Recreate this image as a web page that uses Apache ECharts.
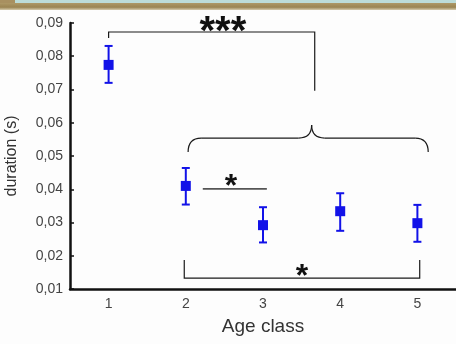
<!DOCTYPE html>
<html><head><meta charset="utf-8">
<script src="https://cdn.jsdelivr.net/npm/echarts@6/dist/echarts.min.js"></script>
<style>html,body{margin:0;padding:0;background:#fdfdfd}#c{width:456px;height:344px}</style>
</head><body><div id="c"></div>
<script>
// ---- data ----
const ageClasses = ['1', '2', '3', '4', '5'];
const meanDuration = [0.0774, 0.0410, 0.0292, 0.0334, 0.0298];
const errLow = [0.0720, 0.0354, 0.0240, 0.0275, 0.0242];
const errHigh = [0.0831, 0.0464, 0.0346, 0.0388, 0.0353];
const yMin = 0.01, yMax = 0.09, yStep = 0.01;

// ---- significance annotations (x in age-class units, y in seconds) ----
const bracketTop = [[1.0, 0.0855], [1.0, 0.0873], [3.67, 0.0873], [3.67, 0.0696]];
const braceLeft = [2.03, 0.0512];
const braceTip = [3.63, 0.0593];
const braceRight = [5.14, 0.0512];
const braceBarY = 0.0554;
const line23 = [[2.22, 0.0401], [3.05, 0.0401]];
const bracketBottom = [[1.98, 0.0187], [1.98, 0.0133], [5.03, 0.0133], [5.03, 0.0187]];
const starText = ['***', '*', '*'];
const starX = [2.48, 2.585, 3.505];
const starY = [0.0900, 0.0428, 0.0160];
const starSize = [40, 32, 32];

const FONT = 'Liberation Sans, Arial, sans-serif';
const BLUE = '#1212e8';

const chart = echarts.init(document.getElementById('c'), null, {renderer: 'canvas'});

function renderErr(params, api) {
  const i = api.value(0);
  const lo = api.coord([i, api.value(1)]);
  const hi = api.coord([i, api.value(2)]);
  const w = 4;
  const st = {stroke: BLUE, lineWidth: 2};
  return {type: 'group', children: [
    {type: 'line', shape: {x1: lo[0], y1: lo[1], x2: hi[0], y2: hi[1]}, style: st},
    {type: 'line', shape: {x1: lo[0] - w, y1: lo[1], x2: lo[0] + w, y2: lo[1]}, style: st},
    {type: 'line', shape: {x1: hi[0] - w, y1: hi[1], x2: hi[0] + w, y2: hi[1]}, style: st}
  ]};
}

function renderAnno(params, api) {
  if (params.dataIndex !== 0) return null;
  const c = p => api.coord(p);
  const ls = {stroke: '#1a1a1a', lineWidth: 1.2, fill: null};
  const children = [];
  children.push({type: 'polyline', shape: {points: bracketTop.map(c)}, style: ls});
  children.push({type: 'polyline', shape: {points: bracketBottom.map(c)}, style: ls});
  children.push({type: 'polyline', shape: {points: line23.map(c)}, style: {stroke: '#555', lineWidth: 1.6, fill: null}});
  const L = c(braceLeft), T = c(braceTip), R = c(braceRight);
  const yB = c([braceTip[0], braceBarY])[1];
  const r = 13;
  const bz = (x1, y1, cx, cy, x2, y2) => ({type: 'bezierCurve', shape: {x1, y1, x2, y2, cpx1: cx, cpy1: cy}, style: ls});
  children.push(bz(L[0], L[1], L[0], yB, L[0] + r, yB));
  children.push({type: 'line', shape: {x1: L[0] + r, y1: yB, x2: T[0] - r, y2: yB}, style: ls});
  children.push(bz(T[0] - r, yB, T[0], yB, T[0], T[1]));
  children.push(bz(T[0], T[1], T[0], yB, T[0] + r, yB));
  children.push({type: 'line', shape: {x1: T[0] + r, y1: yB, x2: R[0] - r, y2: yB}, style: ls});
  children.push(bz(R[0] - r, yB, R[0], yB, R[0], R[1]));
  starText.forEach((t, k) => {
    const p = c([starX[k], starY[k]]);
    const fs = starSize[k];
    children.push({type: 'text', style: {text: t, x: p[0], y: p[1] + 0.24 * fs, align: 'center', verticalAlign: 'middle',
      font: 'bold ' + fs + 'px ' + FONT, fill: '#111'}});
  });
  return {type: 'group', children};
}

chart.setOption({
  backgroundColor: '#fdfdfd',
  animation: false,
  graphic: [
    {type: 'rect', shape: {x: 0, y: 0, width: 456, height: 3}, style: {fill: '#bcdcd8'}, z: 100},
    {type: 'rect', shape: {x: 0, y: 0, width: 15, height: 3}, style: {fill: '#a89060'}, z: 101},
    {type: 'rect', shape: {x: 0, y: 3, width: 456, height: 7}, z: 100,
      style: {fill: new echarts.graphic.LinearGradient(0, 0, 0, 1, [
        {offset: 0, color: '#ad9866'}, {offset: 0.6, color: '#9a8452'}, {offset: 1, color: '#d6ccae'}])}}
  ],
  grid: {left: 70, right: 0, top: 23, bottom: 55, containLabel: false, outerBoundsMode: 'none'},
  xAxis: [{
    type: 'category', data: ageClasses, boundaryGap: true,
    name: 'Age class', nameLocation: 'middle', nameGap: 28,
    nameTextStyle: {fontFamily: FONT, fontSize: 19, color: '#333'},
    axisLine: {lineStyle: {color: '#111', width: 2.5}},
    axisTick: {alignWithLabel: true, inside: true, length: 3, lineStyle: {color: '#111', width: 2}},
    axisLabel: {fontFamily: FONT, fontSize: 14, color: '#444', margin: 8},
    splitLine: {show: false}
  }, {
    type: 'value', min: 0.5, max: 5.5, show: false
  }],
  yAxis: {
    type: 'value', min: yMin, max: yMax, interval: yStep,
    name: 'duration (s)', nameLocation: 'middle', nameGap: 50, nameRotate: 90,
    nameTextStyle: {fontFamily: FONT, fontSize: 16, color: '#333'},
    axisLine: {show: true, lineStyle: {color: '#111', width: 2.5}},
    axisTick: {show: true, inside: true, length: 4, lineStyle: {color: '#111', width: 1.5}},
    axisLabel: {fontFamily: FONT, fontSize: 14, color: '#444', margin: 7,
      formatter: v => v.toFixed(2).replace('.', ',')},
    splitLine: {show: false}
  },
  series: [
    {type: 'custom', name: 'err', xAxisIndex: 0, renderItem: renderErr, z: 2,
      data: ageClasses.map((a, i) => [i, errLow[i], errHigh[i]])},
    {type: 'scatter', name: 'mean', xAxisIndex: 0, symbol: 'rect', symbolSize: 10, z: 3,
      itemStyle: {color: BLUE, opacity: 1}, data: meanDuration},
    {type: 'custom', name: 'anno', xAxisIndex: 1, renderItem: renderAnno, clip: false, silent: true, z: 4,
      data: [[3, 0.05]]}
  ]
});
</script></body></html>
